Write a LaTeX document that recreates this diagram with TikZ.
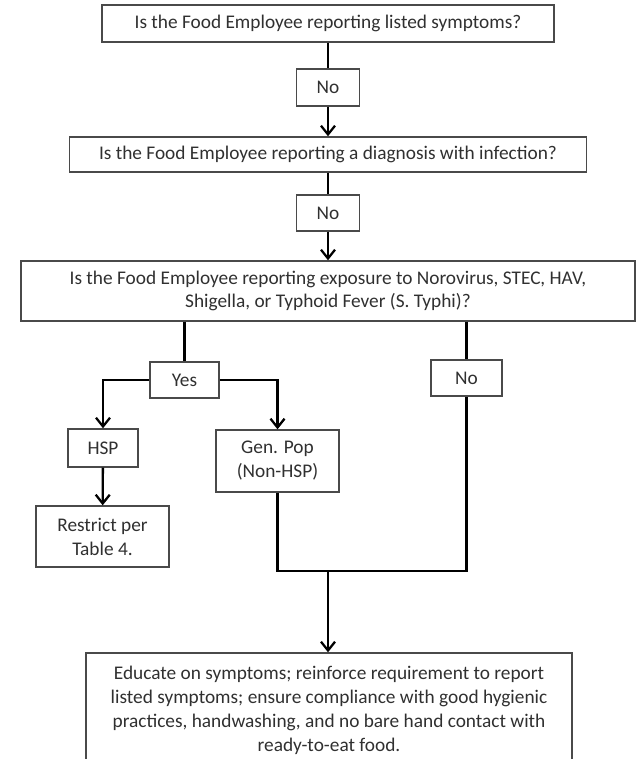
\documentclass[tikz,border=0pt]{standalone}
\usepackage{fontspec}
\setmainfont{Carlito}
\usetikzlibrary{arrows.meta, positioning}
\definecolor{boxgray}{HTML}{4A4A4A}
\definecolor{textgray}{HTML}{303030}

\begin{document}
\begin{tikzpicture}[
    x=0.02cm, y=-0.02cm,
    % Define box style
    box style/.style={
        draw=boxgray, % Border colour
        line width=0.8pt, % Border thickness
        rectangle, % Rectangle shape
        inner sep=0pt, % Size set by minimum width/height
        text=textgray, % Grey text
        font=\fontsize{11}{13.6}\selectfont, % Text size
        align=center % Center alignment
      },
    % Define connector style
    link/.style={line width=1.3pt, black},
    >={Straight Barb[length=5pt, width=8pt]} % Arrow type
  ]
  \useasboundingbox (0,0) rectangle (636,759);
  \clip (0,0) rectangle (636,759);

  % Question boxes down the middle
  \node[box style, minimum width=9.04cm, minimum height=0.74cm] (Symptoms) at (328, 23.5) {Is the Food Employee reporting listed symptoms?};
  \node[box style, minimum width=1.26cm, minimum height=0.74cm] (NoSymptoms) at (328, 87.5) {No};
  \node[box style, minimum width=10.34cm, minimum height=0.70cm] (Diagnosis) at (328, 154.5) {Is the Food Employee reporting a diagnosis with infection?};
  \node[box style, minimum width=1.26cm, minimum height=0.72cm] (NoDiagnosis) at (328, 213) {No};
  \node[box style, minimum width=12.28cm, minimum height=1.2cm] (Exposure) at (328, 291) {Is the Food Employee reporting exposure to Norovirus, STEC, HAV,\\ Shigella, or Typhoid Fever (S. Typhi)?};

  % Answers to the exposure question
  \node[box style, minimum width=1.38cm, minimum height=0.72cm] (Yes) at (184.5, 380) {Yes};
  \node[box style, minimum width=1.42cm, minimum height=0.72cm] (NoExposure) at (466.5, 378) {No};

  % Population branches
  \node[box style, minimum width=1.4cm, minimum height=0.76cm] (HSP) at (103, 448) {HSP};
  \node[box style, minimum width=2.46cm, minimum height=1.24cm] (GenPop) at (277.5, 461) {Gen. Pop\\ (Non-HSP)};
  \node[box style, minimum width=2.66cm, minimum height=1.22cm] (Restrict) at (102.5, 536.5) {Restrict per\\ Table 4.};

  % Final action, cut at the bottom edge
  \node[box style, minimum width=9.72cm, minimum height=2.28cm] (Educate) at (329, 710) {Educate on symptoms; reinforce requirement to report\\ listed symptoms; ensure compliance with good hygienic\\ practices, handwashing, and no bare hand contact with\\ ready-to-eat food.};

  \coordinate (Merge) at (328, 571);

  % Draw connectors
  \draw[link] (Symptoms) -- (NoSymptoms);
  \draw[link, ->] (NoSymptoms) -- (Diagnosis);
  \draw[link] (Diagnosis) -- (NoDiagnosis);
  \draw[link, ->] (NoDiagnosis) -- (Exposure);

  % Yes and No leave the exposure question
  \draw[link] (Yes.north |- Exposure.south) -- (Yes.north);
  \draw[link] (NoExposure.north |- Exposure.south) -- (NoExposure.north);

  % Yes splits into HSP and general population
  \draw[link, ->] (Yes.west) -| (HSP.north);
  \draw[link, ->] (Yes.east) -| (GenPop.north);
  \draw[link, ->] (HSP) -- (Restrict);

  % General population and No join
  \draw[link] (GenPop.south) |- (Merge) -| (NoExposure.south);
  \draw[link, ->] (Merge) -- (Educate.north -| Merge);

\end{tikzpicture}
\end{document}
